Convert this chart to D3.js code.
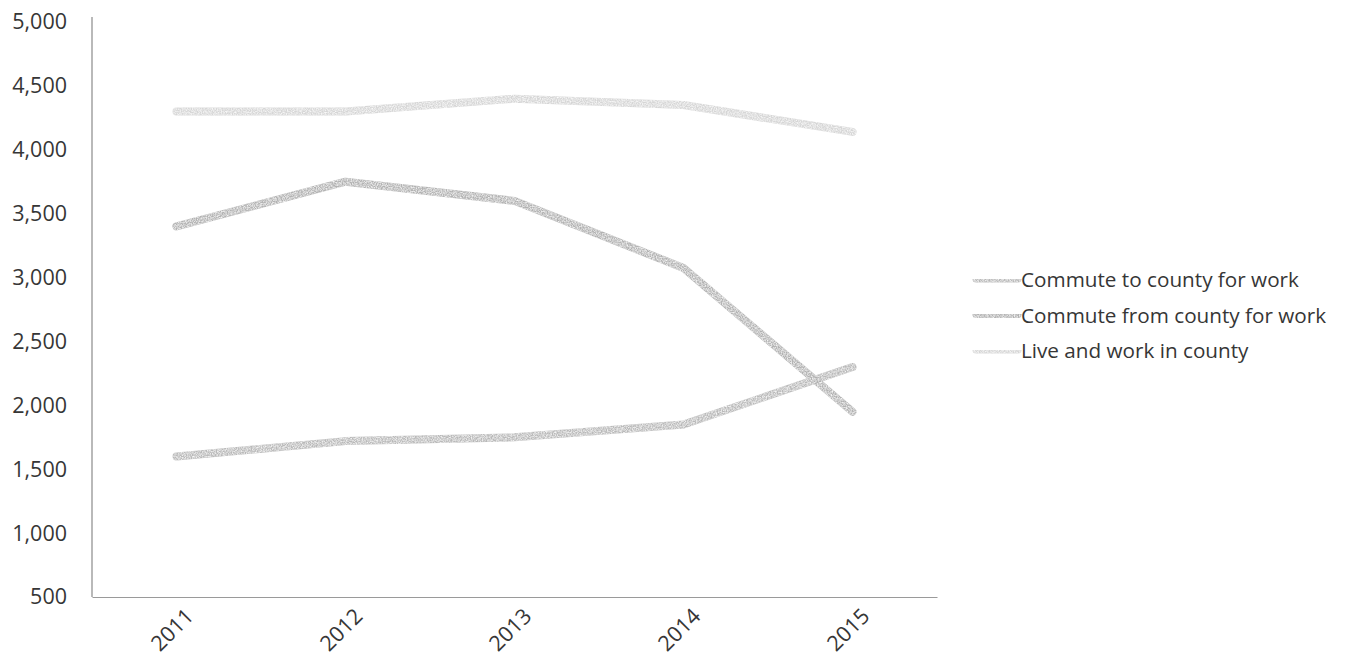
<!DOCTYPE html>
<html>
<head>
<meta charset="utf-8">
<script src="https://cdn.jsdelivr.net/npm/d3@7"></script>
<style>
  html, body { margin: 0; padding: 0; background: #ffffff; }
  svg { display: block; }
  text { font-family: "Open Sans", "Noto Sans", sans-serif; fill: #363636; }
</style>
</head>
<body>
<svg id="chart" width="1372" height="662"></svg>
<script>
// Commuting patterns, 2011–2015
const years = ["2011", "2012", "2013", "2014", "2015"];
const commuteTo = [1600, 1720, 1750, 1850, 2300];
const commuteFrom = [3400, 3750, 3600, 3075, 1950];
const liveAndWork = [4300, 4300, 4400, 4350, 4140];
const seriesNames = ["Commute to county for work", "Commute from county for work", "Live and work in county"];
const yTicks = [500, 1000, 1500, 2000, 2500, 3000, 3500, 4000, 4500, 5000];

const series = [
  { name: seriesNames[0], values: commuteTo, color: "#b9b9b9" },
  { name: seriesNames[1], values: commuteFrom, color: "#b2b2b2" },
  { name: seriesNames[2], values: liveAndWork, color: "#d6d6d6" }
];

const svg = d3.select("#chart");
const plot = { left: 92, right: 937, top: 22, bottom: 597 };

const x = d3.scaleBand().domain(years).range([plot.left, plot.right]);
const y = d3.scaleLinear().domain([500, 5000]).range([plot.bottom, plot.top]);
const xc = d => x(d) + x.bandwidth() / 2;

// light speckled texture for the lines
const defs = svg.append("defs");
const grain = defs.append("filter").attr("id", "grain")
  .attr("filterUnits", "userSpaceOnUse")
  .attr("x", 0).attr("y", 0).attr("width", 1372).attr("height", 662);
grain.append("feTurbulence").attr("type", "fractalNoise").attr("baseFrequency", 0.8)
  .attr("numOctaves", 2).attr("seed", 3).attr("result", "noise");
grain.append("feColorMatrix").attr("in", "noise").attr("type", "matrix")
  .attr("values", "0 0 0 0 1  0 0 0 0 1  0 0 0 0 1  0 0 0 -1.6 1.1").attr("result", "speck");
grain.append("feComposite").attr("in", "speck").attr("in2", "SourceGraphic").attr("operator", "in").attr("result", "specks");
grain.append("feMerge").selectAll("feMergeNode").data(["SourceGraphic", "specks"]).join("feMergeNode").attr("in", d => d);

// Y axis
const yAxis = d3.axisLeft(y).tickValues(yTicks).tickSize(0).tickPadding(25)
  .tickFormat(d3.format(","));
const gy = svg.append("g").attr("transform", `translate(${plot.left},0)`).call(yAxis);
gy.select(".domain").attr("stroke", "#8a8a8a").attr("stroke-width", 1.2)
  .attr("d", `M0,${plot.top - 5}V${plot.bottom}`);
gy.selectAll("text").attr("font-size", 21.5).attr("fill", "#363636");

// X axis
const xAxis = d3.axisBottom(x).tickSize(0).tickFormat(d => d);
const gx = svg.append("g").attr("transform", `translate(0,${plot.bottom})`).call(xAxis);
gx.select(".domain").attr("stroke", "#9a9a9a").attr("stroke-width", 1.2);
gx.selectAll(".tick text")
  .attr("font-size", 21.5)
  .attr("fill", "#363636")
  .attr("text-anchor", "middle")
  .attr("dominant-baseline", "central")
  .attr("dy", null)
  .attr("y", null)
  .attr("transform", "translate(-5,32) rotate(-45)");

// Lines
const line = d3.line().x((d, i) => xc(years[i])).y(d => y(d));
svg.append("g").selectAll("path").data(series).join("path")
  .attr("d", d => line(d.values))
  .attr("fill", "none")
  .attr("stroke", d => d.color)
  .attr("stroke-width", 8)
  .attr("stroke-linecap", "round")
  .attr("stroke-linejoin", "round")
  .attr("filter", "url(#grain)");

// Legend
const legend = svg.append("g").attr("transform", "translate(972,279)");
const item = legend.selectAll("g").data(series).join("g")
  .attr("transform", (d, i) => `translate(0,${i * 35.5})`);
item.append("line").attr("x1", 4).attr("x2", 46).attr("y1", 0).attr("y2", 0)
  .attr("stroke", d => d.color).attr("stroke-width", 7).attr("stroke-linecap", "round")
  .attr("filter", "url(#grain)");
item.append("text").attr("x", 49).attr("y", 0).attr("dominant-baseline", "central")
  .attr("font-size", 20.7).text(d => d.name);
</script>
</body>
</html>
